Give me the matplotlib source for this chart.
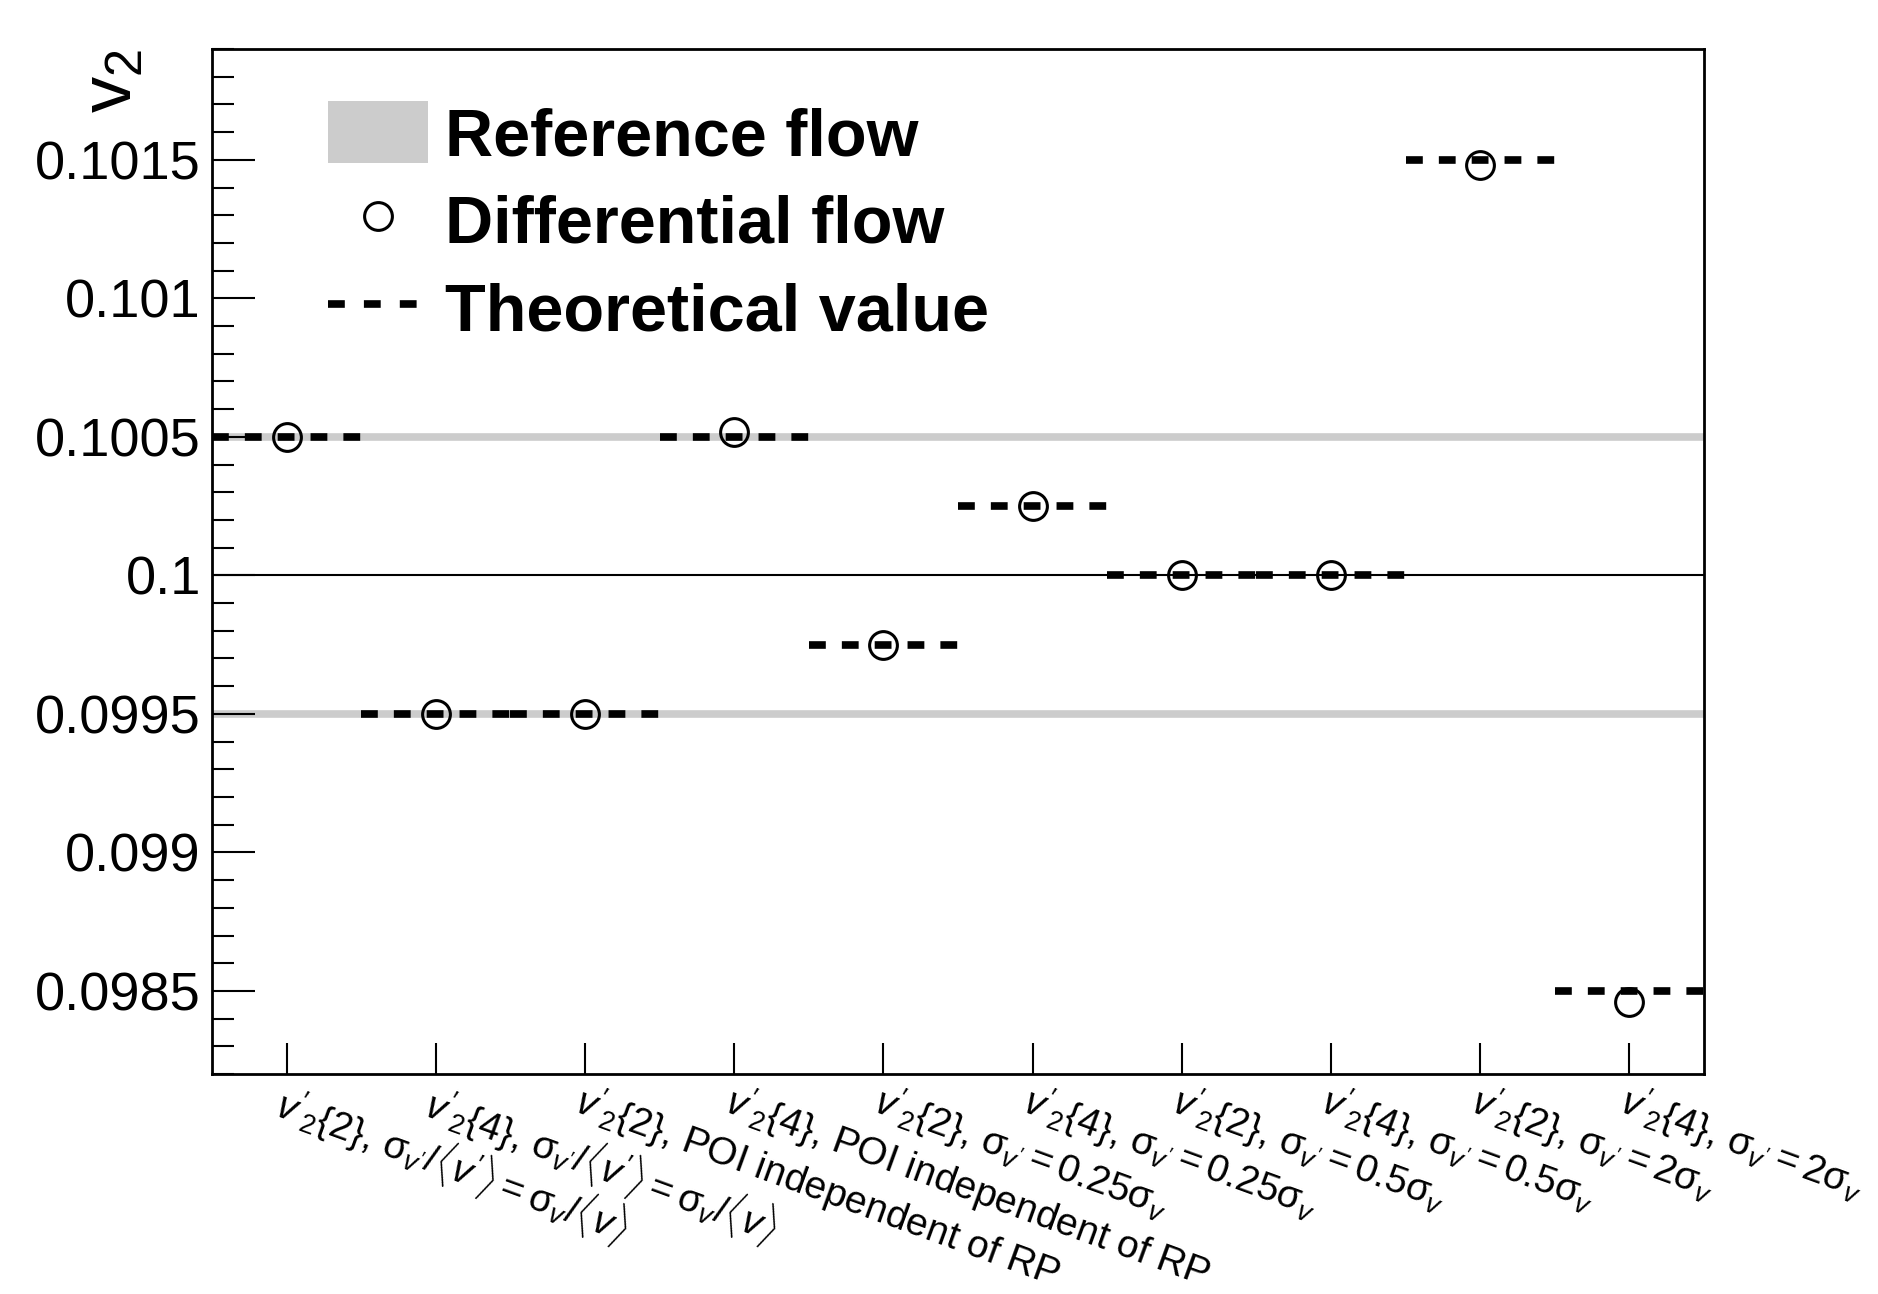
import matplotlib
matplotlib.use("Agg")
import matplotlib.pyplot as plt
from matplotlib.lines import Line2D
from matplotlib.patches import Patch
from matplotlib.ticker import MultipleLocator, FuncFormatter
import numpy as np

plt.rcParams['font.family'] = ['Liberation Sans', 'DejaVu Sans']
plt.rcParams['mathtext.fontset'] = 'custom'
plt.rcParams['mathtext.rm'] = 'Liberation Sans'
plt.rcParams['mathtext.it'] = 'Liberation Sans:italic'
plt.rcParams['mathtext.bf'] = 'Liberation Sans:bold'

#### data ######################################################
labels = [
    r"$v'_{2}\mathit{\{2\}}$, $\mathrm{\sigma}_{v'}/\langle v'\rangle = \mathrm{\sigma}_{v}/\langle v\rangle$",
    r"$v'_{2}\mathit{\{4\}}$, $\mathrm{\sigma}_{v'}/\langle v'\rangle = \mathrm{\sigma}_{v}/\langle v\rangle$",
    r"$v'_{2}\mathit{\{2\}}$, POI independent of RP",
    r"$v'_{2}\mathit{\{4\}}$, POI independent of RP",
    r"$v'_{2}\mathit{\{2\}}$, $\mathrm{\sigma}_{v'} = \mathit{0.25}\mathrm{\sigma}_{v}$",
    r"$v'_{2}\mathit{\{4\}}$, $\mathrm{\sigma}_{v'} = \mathit{0.25}\mathrm{\sigma}_{v}$",
    r"$v'_{2}\mathit{\{2\}}$, $\mathrm{\sigma}_{v'} = \mathit{0.5}\mathrm{\sigma}_{v}$",
    r"$v'_{2}\mathit{\{4\}}$, $\mathrm{\sigma}_{v'} = \mathit{0.5}\mathrm{\sigma}_{v}$",
    r"$v'_{2}\mathit{\{2\}}$, $\mathrm{\sigma}_{v'} = \mathit{2}\mathrm{\sigma}_{v}$",
    r"$v'_{2}\mathit{\{4\}}$, $\mathrm{\sigma}_{v'} = \mathit{2}\mathrm{\sigma}_{v}$",
]
theory = [0.1005, 0.0995, 0.0995, 0.1005, 0.09975, 0.10025, 0.1, 0.1, 0.1015, 0.0985]
measured = [0.1005, 0.0995, 0.0995, 0.100517, 0.09975, 0.10025, 0.1, 0.1, 0.101483, 0.09846]
ref_flow = 0.1
ref_err = 0.0005

#### plot ######################################################
fig = plt.figure(figsize=(18.78, 12.94), dpi=100)
ax = fig.add_axes([0.1129, 0.170, 0.7945, 0.7921])

nbins = len(labels)
centers = np.arange(nbins) + 0.5

# reference flow band edges and central value
ax.axhline(ref_flow + ref_err, color='#cccccc', lw=5.5, zorder=1)
ax.axhline(ref_flow - ref_err, color='#cccccc', lw=5.5, zorder=1)
ax.axhline(ref_flow, color='black', lw=1.5, zorder=1)

# theoretical values, one dashed segment per bin
lw_th = 5.5
dash = (0, (2.2, 2.1))
ax.hlines(theory, centers - 0.5, centers + 0.5, colors='black', lw=lw_th,
          linestyles=[dash], capstyle='butt', zorder=2)

# differential flow
ax.plot(centers, measured, 'o', mfc='none', mec='black', ms=20, mew=2.2,
        linestyle='none', zorder=3)

ax.set_xlim(0, nbins)
ax.set_ylim(0.09820, 0.10190)

ax.set_xticks(centers)
ax.set_xticklabels(labels, rotation=-20, ha='left', va='top',
                   rotation_mode='anchor', fontsize=28)
ax.tick_params(axis='x', direction='in', length=22, width=1.5, pad=3)

ax.yaxis.set_major_locator(MultipleLocator(0.0005))
ax.yaxis.set_minor_locator(MultipleLocator(0.0001))
ax.yaxis.set_major_formatter(FuncFormatter(lambda v, p: '%g' % round(v, 6)))
ax.tick_params(axis='y', which='major', direction='in', length=31, width=1.5,
               labelsize=39, pad=8)
ax.tick_params(axis='y', which='minor', direction='in', length=16, width=1.5)

for s in ax.spines.values():
    s.set_linewidth(2)

ax.text(-0.066, 1.0, r"v$_{2}$", transform=ax.transAxes, rotation=90,
        ha='center', va='top', fontsize=52)

handles = [
    Patch(facecolor='#cccccc', edgecolor='none'),
    Line2D([], [], marker='o', mfc='none', mec='black', ms=20, mew=2.2, linestyle='none'),
    Line2D([], [], color='black', lw=lw_th, linestyle=(0, (2.2, 2.5)),
           dash_capstyle='butt'),
]
ax.legend(handles, ['Reference flow', 'Differential flow', 'Theoretical value'],
          loc='upper left', bbox_to_anchor=(0.06, 0.975), frameon=False,
          prop={'weight': 'bold', 'size': 48}, handlelength=1.5,
          handleheight=1.05, handletextpad=0.25, labelspacing=0.3,
          borderaxespad=0)

fig.savefig('out.png', dpi=100)
